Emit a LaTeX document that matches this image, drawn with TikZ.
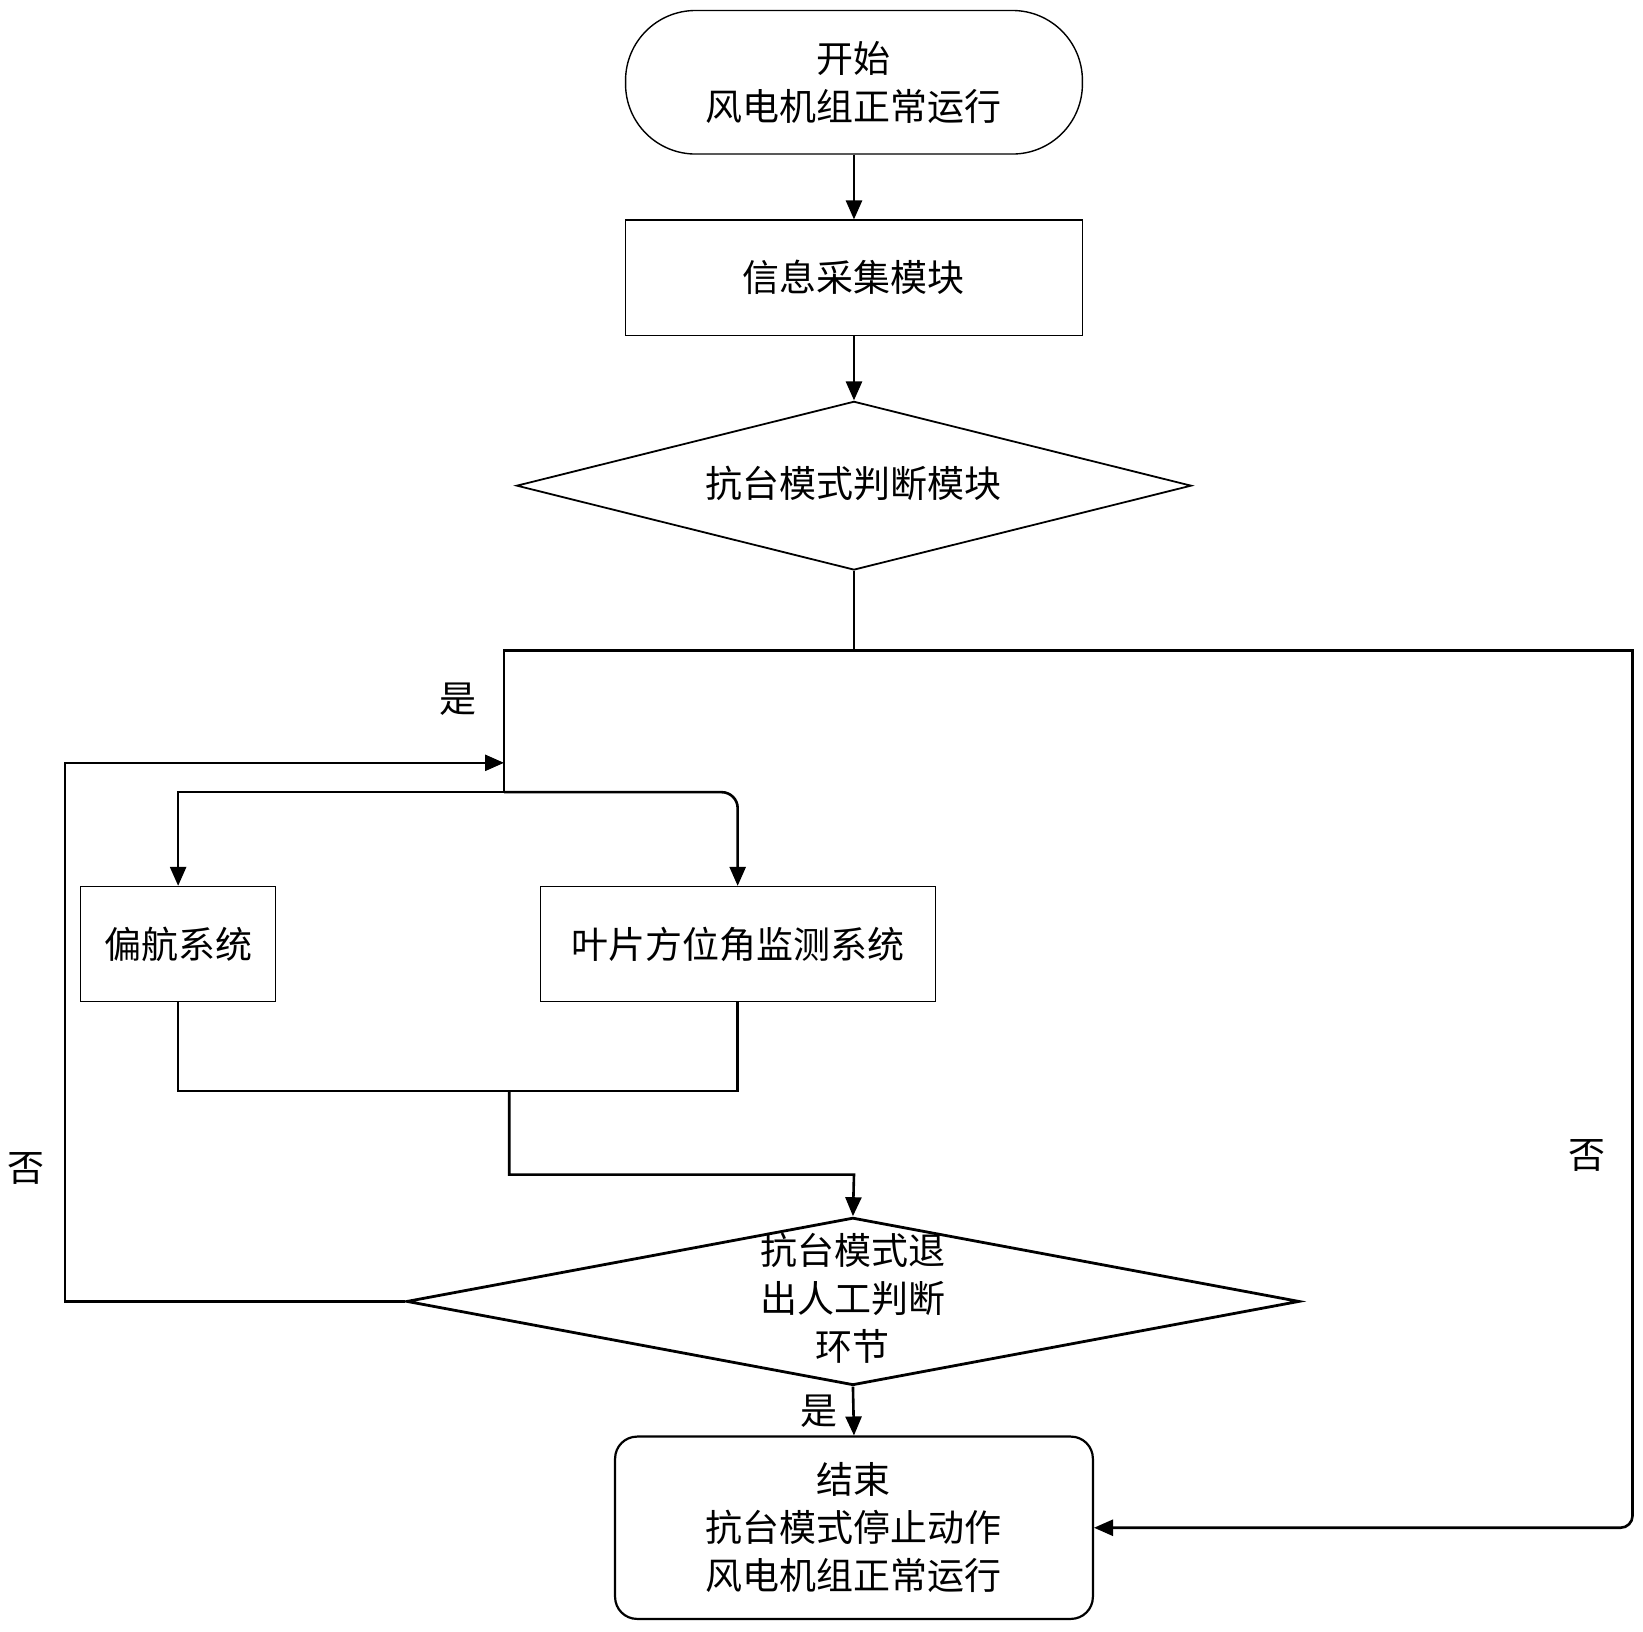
\documentclass[tikz,border=0pt]{standalone}
\usepackage{fontspec}
\newfontfamily\cjk{Noto Sans CJK SC}
\usetikzlibrary{shapes.geometric,arrows.meta}
\def\u{0.5239pt}
\tikzset{
  txt/.style={font=\cjk\fontsize{18.5}{24}\selectfont, align=center, inner sep=0pt},
  boxn/.style={txt, draw, line width=0.6pt, minimum height=110*\u},
  dia/.style={draw, diamond, inner sep=0pt},
  conn/.style={line width=1.3pt},
  arr/.style={conn, -{Triangle[length=9.5pt,width=8pt]}},
  lbl/.style={font=\cjk\fontsize{18.5}{24}\selectfont, inner sep=0pt}
}
\begin{document}
\begin{tikzpicture}[x=\u, y=-\u]
\useasboundingbox (0,0) rectangle (1568,1557);
\fill[white] (0,0) rectangle (1568,1557);
% nodes
\node[txt, draw, line width=0.7pt, minimum width=436*\u, minimum height=137*\u, rounded corners=35pt] (start) at (815,78.5) {开始\\风电机组正常运行};
\node[boxn, minimum width=436*\u] (info) at (815,265) {信息采集模块};
\node[dia, line width=0.9pt, minimum width=644*\u, minimum height=161*\u] (d1) at (815,463.5) {};
\node[txt] (d1t) at (815,461) {抗台模式判断模块};
\node[boxn, minimum width=186*\u] (yaw) at (170,901) {偏航系统};
\node[boxn, minimum width=377*\u] (blade) at (704,901) {叶片方位角监测系统};
\node[dia, line width=1.4pt, minimum width=852*\u, minimum height=160*\u] (d2) at (814,1242) {};
\node[txt] (d2t) at (814,1239) {抗台模式退\\出人工判断\\环节};
\node[txt, draw, line width=1.1pt, minimum width=456*\u, minimum height=174*\u, rounded corners=11pt] (end) at (815,1458) {结束\\抗台模式停止动作\\风电机组正常运行};
% junction coordinates
\coordinate (j1) at (815,621);
\coordinate (jl) at (481,621);
\coordinate (jr) at (1558,621);
\coordinate (jm) at (1558,1000);
\coordinate (j2) at (481,756);
\coordinate (sl) at (170,756);
\coordinate (sr) at (704,756);
\coordinate (bl) at (170,1041);
\coordinate (br) at (704,1041);
\coordinate (m1) at (486,1041);
\coordinate (m2) at (486,1121);
\coordinate (m3) at (815,1121);
\coordinate (lb) at (62,1242);
\coordinate (lt) at (62,728);
\coordinate (lin) at (481,728);
\coordinate (rb) at (1558,1458);
% connectors
\draw[arr] (start) -- (info);
\draw[arr] (info) -- (d1);
\draw[conn] (d1.south) -- (j1);
\draw[conn] (j2) -- (jl) -- (jr) -- (jm);
\draw[arr, rounded corners=6pt] (jm) -- (rb) -- (end.east);
\draw[arr] (j2) -- (sl) -- (yaw.north);
\draw[arr, rounded corners=8pt] (j2) -- (sr) -- (blade.north);
\draw[conn] (yaw.south) -- (bl) -- (br) -- (blade.south);
\draw[arr] (m1) -- (m2) -- (m3) -- (d2.north);
\draw[arr] (d2.west) -- (lb) -- (lt) -- (lin);
\draw[arr] (d2.south) -- (end.north);
% labels
\node[lbl] (yes1) at (437,667) {是};
\node[lbl] (no1) at (25,1115) {否};
\node[lbl] (no2) at (1515,1103) {否};
\node[lbl] (yes2) at (782,1347) {是};
\end{tikzpicture}
\end{document}
